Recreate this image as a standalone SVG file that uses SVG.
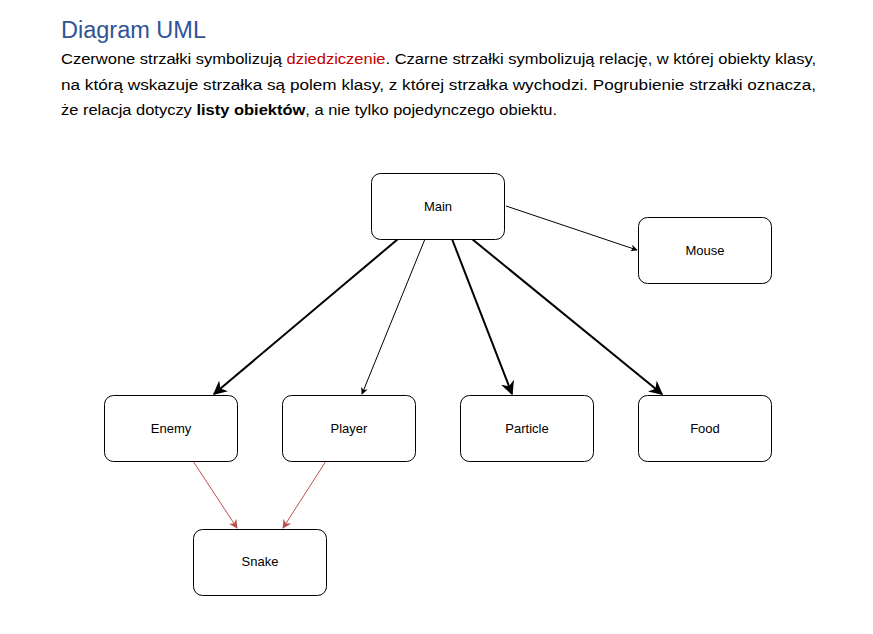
<svg xmlns="http://www.w3.org/2000/svg" width="873" height="634" viewBox="0 0 873 634">
<style>
.title{font-family:"Liberation Sans",Arial,sans-serif;font-size:23px;fill:#2f5496}
.body{font-family:"Liberation Sans",Arial,sans-serif;font-size:15.5px;fill:#000}
.node rect{fill:#fff;stroke:#000;stroke-width:1}
.node text{font-family:"Liberation Sans",Arial,sans-serif;font-size:13px;fill:#000;text-anchor:middle}
.thin{stroke:#000;stroke-width:1;fill:none}
.thick{stroke:#000;stroke-width:2;fill:none}
.red{stroke:#b85450;stroke-width:1;fill:none}
</style>
<defs>
<marker id="ab" viewBox="0 0 10 10" refX="9" refY="5" markerWidth="7" markerHeight="7" markerUnits="userSpaceOnUse" orient="auto">
<path d="M0,0 L10,5 L0,10 L3,5 Z" fill="#000"/>
</marker>
<marker id="abk" viewBox="0 0 10 10" refX="9" refY="5" markerWidth="14" markerHeight="14" markerUnits="userSpaceOnUse" orient="auto">
<path d="M0,0 L10,5 L0,10 L3,5 Z" fill="#000"/>
</marker>
<marker id="ar" viewBox="0 0 10 10" refX="9" refY="5" markerWidth="9" markerHeight="9" markerUnits="userSpaceOnUse" orient="auto">
<path d="M0,0 L10,5 L0,10 L3,5 Z" fill="#b85450"/>
</marker>
</defs>
<rect width="873" height="634" fill="#fff"/>
<text class="title" x="61" y="38" textLength="145" lengthAdjust="spacingAndGlyphs">Diagram UML</text>
<text class="body" x="61" y="64" textLength="755" lengthAdjust="spacingAndGlyphs">Czerwone strzałki symbolizują <tspan fill="#c00000">dziedziczenie</tspan>. Czarne strzałki symbolizują relację, w której obiekty klasy,</text>
<text class="body" x="61" y="90" textLength="755" lengthAdjust="spacingAndGlyphs">na którą wskazuje strzałka są polem klasy, z której strzałka wychodzi. Pogrubienie strzałki oznacza,</text>
<text class="body" x="61" y="115" textLength="496" lengthAdjust="spacingAndGlyphs">że relacja dotyczy <tspan font-weight="bold">listy obiektów</tspan>, a nie tylko pojedynczego obiektu.</text>
<g id="connectors">
<line class="thick" x1="398" y1="239" x2="214" y2="394" marker-end="url(#abk)"/>
<line class="thin" x1="425" y1="239" x2="362" y2="394" marker-end="url(#ab)"/>
<line class="thick" x1="452" y1="239" x2="512" y2="394" marker-end="url(#abk)"/>
<line class="thick" x1="472" y1="239" x2="662" y2="394" marker-end="url(#abk)"/>
<line class="thin" x1="506" y1="206" x2="637" y2="250" marker-end="url(#ab)"/>
<line class="red" x1="193" y1="461" x2="237" y2="528" marker-end="url(#ar)"/>
<line class="red" x1="326" y1="461" x2="283" y2="528" marker-end="url(#ar)"/>
</g>
<g id="node-main" class="node"><rect x="371.5" y="173.5" width="133" height="66" rx="9"/><text x="438" y="211">Main</text></g>
<g id="node-mouse" class="node"><rect x="638.5" y="217.5" width="133" height="66" rx="9"/><text x="705" y="255">Mouse</text></g>
<g id="node-enemy" class="node"><rect x="104.5" y="395.5" width="133" height="66" rx="9"/><text x="171" y="433">Enemy</text></g>
<g id="node-player" class="node"><rect x="282.5" y="395.5" width="133" height="66" rx="9"/><text x="349" y="433">Player</text></g>
<g id="node-particle" class="node"><rect x="460.5" y="395.5" width="133" height="66" rx="9"/><text x="527" y="433">Particle</text></g>
<g id="node-food" class="node"><rect x="638.5" y="395.5" width="133" height="66" rx="9"/><text x="705" y="433">Food</text></g>
<g id="node-snake" class="node"><rect x="193.5" y="529.5" width="133" height="66" rx="9"/><text x="260" y="566">Snake</text></g>
</svg>
